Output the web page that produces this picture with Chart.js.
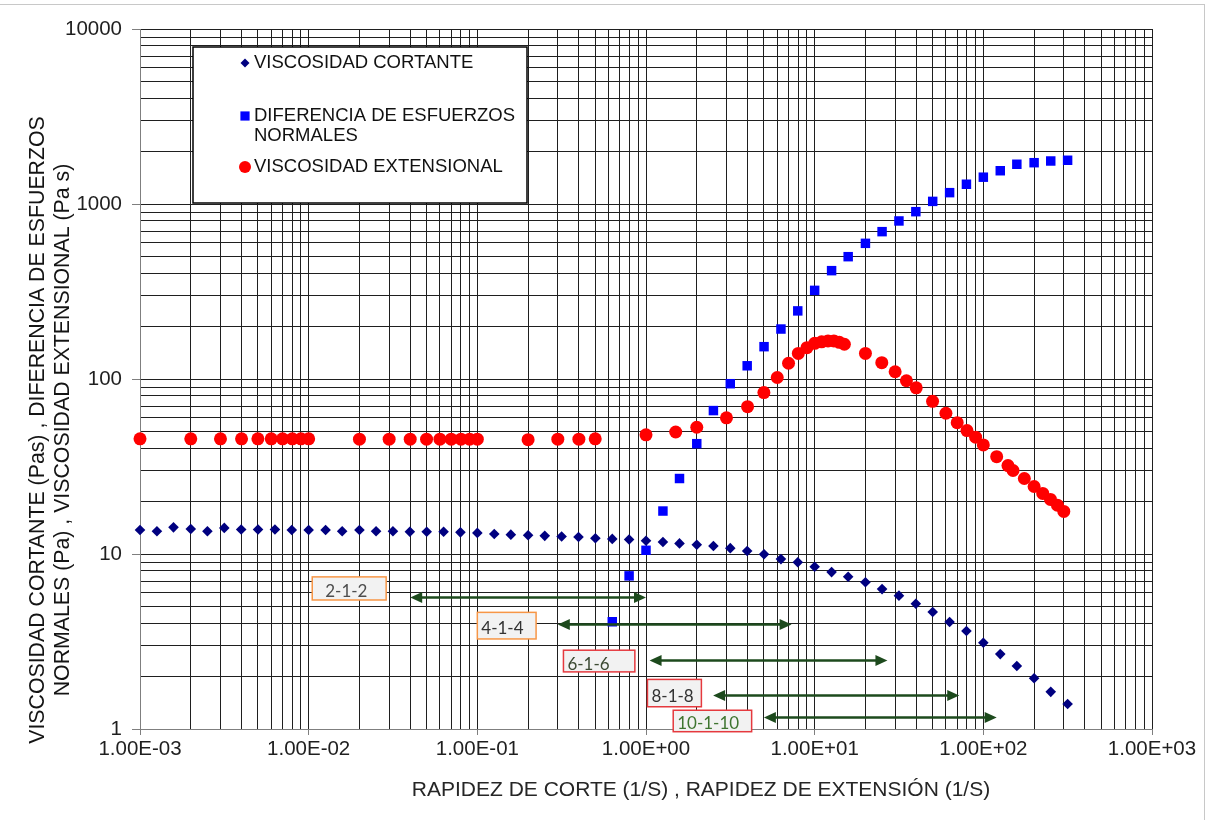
<!DOCTYPE html>
<html>
<head>
<meta charset="utf-8">
<script src="https://cdn.jsdelivr.net/npm/chart.js@4.4.1/dist/chart.umd.min.js"></script>
<style>
  html, body { margin: 0; padding: 0; background: #fff; }
</style>
</head>
<body>
<canvas id="myChart" width="1208" height="820"></canvas>
<script>
// viscosidad cortante (diamantes)
const shearRate = [0.001, 0.00126, 0.00158, 0.002, 0.00251, 0.00316, 0.00398, 0.00501, 0.00631, 0.00794,
  0.01, 0.0126, 0.0158, 0.02, 0.0251, 0.0316, 0.0398, 0.0501, 0.0631, 0.0794,
  0.1, 0.126, 0.158, 0.2, 0.251, 0.316, 0.398, 0.501, 0.631, 0.794,
  1, 1.26, 1.58, 2, 2.51, 3.16, 3.98, 5.01, 6.31, 7.94,
  10, 12.6, 15.8, 20, 25.1, 31.6, 39.8, 50.1, 63.1, 79.4,
  100, 126, 158, 200, 251, 316];
const shearVisc = [13.7, 13.5, 14.2, 13.9, 13.5, 14.1, 13.8, 13.8, 13.8, 13.7,
  13.7, 13.7, 13.5, 13.7, 13.5, 13.5, 13.4, 13.4, 13.4, 13.3,
  13.2, 13.0, 12.9, 12.8, 12.7, 12.6, 12.5, 12.3, 12.2, 12.1,
  11.9, 11.7, 11.5, 11.3, 11.1, 10.8, 10.4, 9.96, 9.35, 8.97,
  8.46, 7.88, 7.42, 6.89, 6.3, 5.78, 5.2, 4.66, 4.09, 3.63,
  3.11, 2.68, 2.29, 1.95, 1.63, 1.39];

// diferencia de esfuerzos normales (cuadrados)
const normalRate = [0.631, 0.794, 1, 1.26, 1.58, 2, 2.51, 3.16, 3.98, 5.01, 6.31, 7.94,
  10, 12.6, 15.8, 20, 25.1, 31.6, 39.8, 50.1, 63.1, 79.4, 100, 126, 158, 200, 251, 316];
const normalDiff = [4.1, 7.5, 10.5, 17.6, 27, 42.7, 66, 94, 119, 153, 193, 245,
  321, 416, 500, 596, 695, 800, 904, 1035, 1161, 1297, 1423, 1549, 1687, 1722, 1761, 1778];

// viscosidad extensional (circulos)
const extRate = [0.001, 0.002, 0.003, 0.004, 0.005, 0.006, 0.007, 0.008, 0.009, 0.01,
  0.02, 0.03, 0.04, 0.05, 0.06, 0.07, 0.08, 0.09, 0.1,
  0.2, 0.3, 0.4, 0.5,
  1, 1.5, 2, 3, 4, 5, 6, 7, 8, 9, 10, 11, 12, 13, 14, 15,
  20, 25, 30, 35, 40, 50, 60, 70, 80, 90, 100, 120, 140, 150, 175, 200, 225, 250, 275, 300];
const extVisc = [45.5, 45.5, 45.5, 45.5, 45.5, 45.5, 45.5, 45.5, 45.5, 45.5,
  45.3, 45.3, 45.3, 45.3, 45.3, 45.3, 45.3, 45.3, 45.3,
  45, 45.3, 45.3, 45.5,
  48, 49.8, 53, 60, 69.5, 83.6, 102, 123, 140, 151, 160, 163, 165, 165, 162, 158,
  140, 124, 110, 97.7, 89, 74.5, 63.7, 56.3, 50.7, 46.5, 42, 36, 32, 30, 27, 24.3, 22.2, 20.5, 19, 17.5];

const xTickLabels = ["1.00E-03", "1.00E-02", "1.00E-01", "1.00E+00", "1.00E+01", "1.00E+02", "1.00E+03"];
const yTickLabels = ["1", "10", "100", "1000", "10000"];

// rangos de ensayo (flechas)
const rangeLabels = ["2-1-2", "4-1-4", "6-1-6", "8-1-8", "10-1-10"];
const rangeFrom = [0.04, 0.3, 1.05, 2.5, 5];
const rangeTo = [1, 7.3, 27, 72, 120];
const rangeLevel = [5.7, 4.0, 2.48, 1.56, 1.17];
const rangeBoxX = [[0.0105, 0.0288], [0.1, 0.223], [0.324, 0.859], [1.02, 2.13], [1.45, 4.23]];
const rangeBoxY = [[7.4, 5.46], [4.64, 3.27], [2.82, 2.12], [1.92, 1.34], [1.28, 0.965]];

const boxBorder = ["#f79646", "#f79646", "#e5393e", "#e5393e", "#e5393e"];
const boxText = ["#4d4d4d", "#333333", "#3d4a33", "#333333", "#3f7530"];
const boxPad = [13, 4, 4, 4, 4];

const FONT = "'Liberation Sans', Arial, sans-serif";

const toPoints = (xs, ys) => xs.map((x, i) => ({ x: x, y: ys[i] }));

const logTicks = (lo, hi) => {
  const t = [];
  for (let e = lo; e < hi; e++) {
    for (let m = 1; m < 10; m++) {
      t.push({ value: m * Math.pow(10, e), major: m === 1, decade: e - lo });
    }
  }
  t.push({ value: Math.pow(10, hi), major: true, decade: hi - lo });
  return t;
};

const tickColor = (ctx) => (ctx.tick && ctx.tick.major ? "#7f7f7f" : "rgba(0,0,0,0)");

const arrowHead = (ctx, x, y, dir) => {
  ctx.beginPath();
  ctx.moveTo(x, y);
  ctx.lineTo(x - dir * 12, y - 5.5);
  ctx.lineTo(x - dir * 12, y + 5.5);
  ctx.closePath();
  ctx.fill();
};

const decorations = {
  id: "decorations",
  beforeDraw(chart) {
    const ctx = chart.ctx;
    ctx.save();
    ctx.fillStyle = "#fff";
    ctx.fillRect(0, 0, chart.width, chart.height);
    ctx.strokeStyle = "#c8c8c8";
    ctx.lineWidth = 1;
    ctx.strokeRect(-5, 4.5, 1209.5, 900);
    ctx.restore();
  },
  afterDraw(chart) {
    const ctx = chart.ctx;
    const xs = chart.scales.x;
    const ys = chart.scales.y;
    ctx.save();

    // rangos
    rangeLabels.forEach((label, i) => {
      const bx1 = xs.getPixelForValue(rangeBoxX[i][0]);
      const bx2 = xs.getPixelForValue(rangeBoxX[i][1]);
      const by1 = ys.getPixelForValue(rangeBoxY[i][0]);
      const by2 = ys.getPixelForValue(rangeBoxY[i][1]);
      ctx.fillStyle = "#f2f2f2";
      ctx.fillRect(bx1, by1, bx2 - bx1, by2 - by1);
      ctx.strokeStyle = boxBorder[i];
      ctx.lineWidth = 1.5;
      ctx.strokeRect(bx1, by1, bx2 - bx1, by2 - by1);
      ctx.fillStyle = boxText[i];
      ctx.font = "17px Lato, 'Open Sans', sans-serif";
      ctx.textAlign = "left";
      ctx.textBaseline = "middle";
      ctx.fillText(label, bx1 + boxPad[i], (by1 + by2) / 2 + 3);

      const ax1 = xs.getPixelForValue(rangeFrom[i]);
      const ax2 = xs.getPixelForValue(rangeTo[i]);
      const ay = Math.round(ys.getPixelForValue(rangeLevel[i])) + 0.5;
      ctx.strokeStyle = "#1d4a1d";
      ctx.fillStyle = "#1d4a1d";
      ctx.lineWidth = 2.5;
      ctx.beginPath();
      ctx.moveTo(ax1 + 8, ay);
      ctx.lineTo(ax2 - 8, ay);
      ctx.stroke();
      arrowHead(ctx, ax1, ay, -1);
      arrowHead(ctx, ax2, ay, 1);
    });

    // leyenda
    ctx.fillStyle = "#fff";
    ctx.fillRect(193, 47, 334, 156);
    ctx.strokeStyle = "#000";
    ctx.lineWidth = 1.5;
    ctx.strokeRect(193, 47, 334, 156);
    const items = [
      { lines: ["VISCOSIDAD CORTANTE"], y: 63, style: "rectRot", r: 4.5, color: "#000080" },
      { lines: ["DIFERENCIA DE ESFUERZOS", "NORMALES"], y: 116, style: "rect", r: 6.5, color: "#0000ff" },
      { lines: ["VISCOSIDAD EXTENSIONAL"], y: 167, style: "circle", r: 6, color: "#ff0000" },
    ];
    ctx.font = "18.5px " + FONT;
    ctx.textAlign = "left";
    ctx.textBaseline = "middle";
    items.forEach((it) => {
      ctx.fillStyle = it.color;
      Chart.helpers.drawPoint(ctx, { pointStyle: it.style, radius: it.r, rotation: 0, borderWidth: 0 }, 245, it.y);
      ctx.fillStyle = "#111";
      it.lines.forEach((t, k) => ctx.fillText(t, 254, it.y + k * 20));
    });

    // titulos de ejes
    ctx.fillStyle = "#262626";
    ctx.font = "21px " + FONT;
    ctx.textAlign = "center";
    ctx.textBaseline = "middle";
    ctx.fillText("RAPIDEZ DE CORTE (1/S) , RAPIDEZ DE EXTENSIÓN (1/S)", 701, 790);

    ctx.fillStyle = "#141414";
    ctx.font = "21.3px " + FONT;
    ctx.translate(0, 430);
    ctx.rotate(-Math.PI / 2);
    ctx.fillText("VISCOSIDAD CORTANTE (Pas) , DIFERENCIA DE ESFUERZOS", 0, 38);
    ctx.fillText("NORMALES (Pa) , VISCOSIDAD EXTENSIONAL (Pa s)", 0, 63);
    ctx.restore();
  },
};

new Chart(document.getElementById("myChart").getContext("2d"), {
  type: "scatter",
  data: {
    datasets: [
      {
        label: "VISCOSIDAD EXTENSIONAL",
        data: toPoints(extRate, extVisc),
        pointStyle: "circle",
        pointRadius: 6.5,
        backgroundColor: "#ff0000",
        borderWidth: 0,
        order: 1,
        clip: false,
      },
      {
        label: "DIFERENCIA DE ESFUERZOS NORMALES",
        data: toPoints(normalRate, normalDiff),
        pointStyle: "rect",
        pointRadius: 6.7,
        backgroundColor: "#0000ff",
        borderWidth: 0,
        order: 2,
        clip: false,
      },
      {
        label: "VISCOSIDAD CORTANTE",
        data: toPoints(shearRate, shearVisc),
        pointStyle: "rectRot",
        pointRadius: 5.3,
        backgroundColor: "#000080",
        borderWidth: 0,
        order: 3,
        clip: false,
      },
    ],
  },
  options: {
    responsive: false,
    animation: false,
    devicePixelRatio: 1,
    layout: { padding: { top: 29, right: 56, bottom: 0, left: 0 } },
    plugins: {
      legend: { display: false },
      tooltip: { enabled: false },
    },
    scales: {
      x: {
        type: "logarithmic",
        min: 0.001,
        max: 1000,
        afterBuildTicks: (scale) => { scale.ticks = logTicks(-3, 3); },
        afterFit: (scale) => { scale.height = 91; },
        border: { color: "#7f7f7f", width: 1 },
        grid: { color: "#1f1f1f", lineWidth: 1, tickLength: 6, tickColor: tickColor },
        ticks: {
          autoSkip: false,
          maxRotation: 0,
          padding: 2,
          color: "#1f1f1f",
          font: { family: FONT, size: 20.5 },
          callback: function (value, index, ticks) {
            const t = ticks[index];
            return t.major ? xTickLabels[t.decade] : "";
          },
        },
      },
      y: {
        type: "logarithmic",
        min: 1,
        max: 10000,
        afterBuildTicks: (scale) => { scale.ticks = logTicks(0, 4); },
        afterFit: (scale) => { scale.width = 140; },
        border: { color: "#7f7f7f", width: 1 },
        grid: { color: "#1f1f1f", lineWidth: 1, tickLength: 8, tickColor: tickColor },
        ticks: {
          autoSkip: false,
          padding: 10,
          color: "#1f1f1f",
          font: { family: FONT, size: 20.5 },
          callback: function (value, index, ticks) {
            const t = ticks[index];
            return t.major ? yTickLabels[t.decade] : "";
          },
        },
      },
    },
  },
  plugins: [decorations],
});
</script>
</body>
</html>
